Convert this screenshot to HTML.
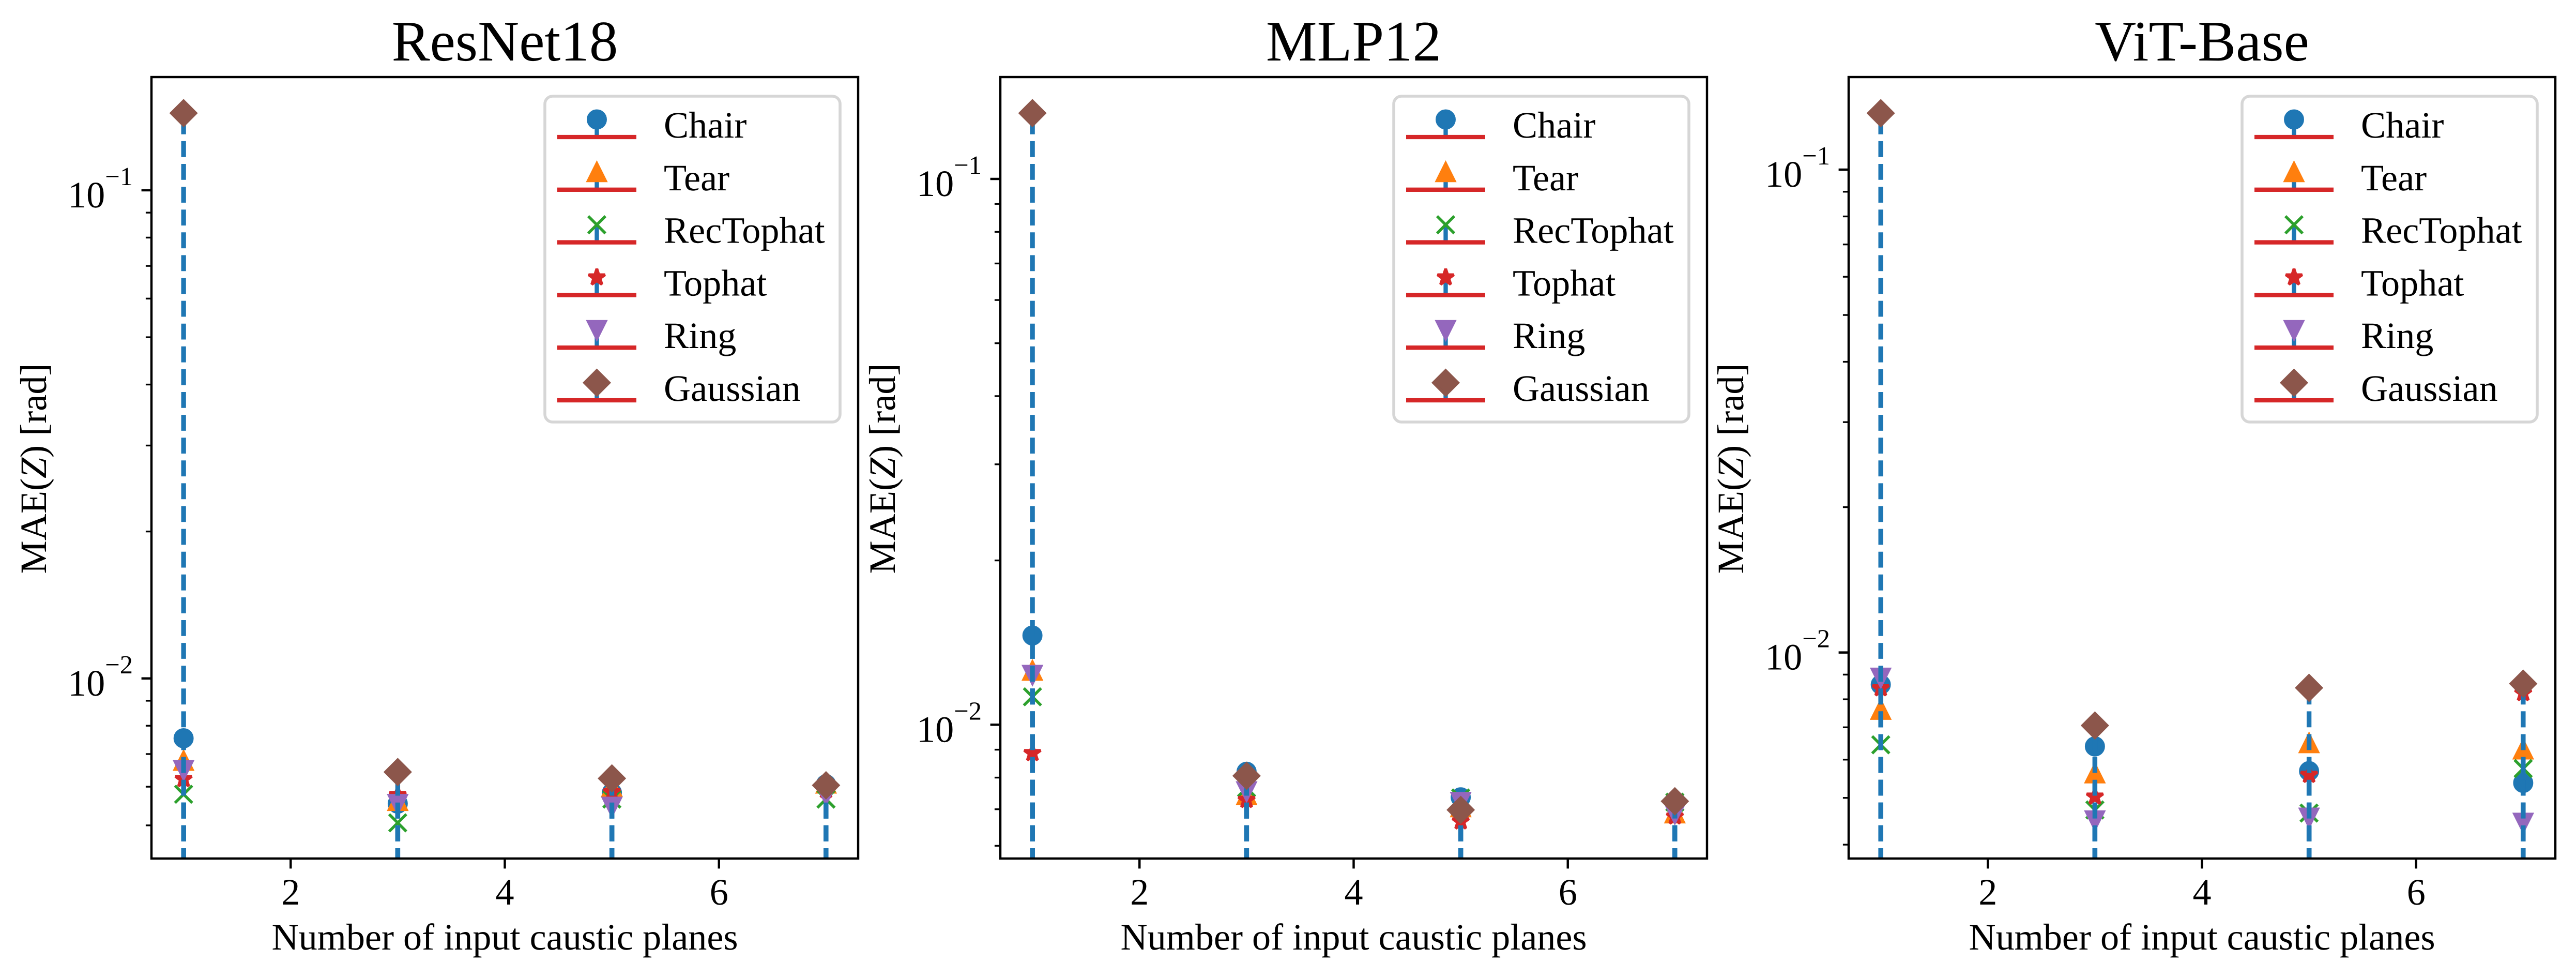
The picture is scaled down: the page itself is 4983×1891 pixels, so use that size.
<!DOCTYPE html>
<html lang="en">
<head>
<meta charset="utf-8">
<title>MAE(Z) vs number of input caustic planes</title>
<style>
html,body{margin:0;padding:0;background:#fff;}
svg{display:block;}
text{font-family:"Liberation Serif","Times New Roman",serif;fill:#000;font-kerning:normal;text-rendering:geometricPrecision;}
.title{font-size:111px;text-anchor:middle;}
.axis-label{font-size:72.2px;text-anchor:middle;}
.legend-label{font-size:72.2px;}
.legend-frame{fill:#fff;fill-opacity:.8;stroke:#d6d6d6;stroke-width:5.56;}
</style>
</head>
<body>
<svg id="figure" xmlns="http://www.w3.org/2000/svg" width="4983" height="1891" viewBox="0 0 4983 1891">
  <rect x="0" y="0" width="4983" height="1891" fill="#fff"/>

  <g>
    <g id="marks-0"></g>
    <g id="axes-0"></g>
    <text class="title" x="976.5" y="117">ResNet18</text>
    <text class="axis-label" x="976.5" y="1836">Number of input caustic planes</text>
    <text class="axis-label" transform="translate(89 906) rotate(-90)">MAE(<tspan font-style="italic">Z</tspan>) [rad]</text>
    <g>
      <rect class="legend-frame" x="1054" y="186" width="571" height="630" rx="15" ry="15"/>
      <g id="legend-0"></g>
      <text class="legend-label" x="1284" y="266">Chair</text>
      <text class="legend-label" x="1284" y="367.8">Tear</text>
      <text class="legend-label" x="1284" y="469.6">RecTophat</text>
      <text class="legend-label" x="1284" y="571.4">Tophat</text>
      <text class="legend-label" x="1284" y="673.2">Ring</text>
      <text class="legend-label" x="1284" y="775">Gaussian</text>
    </g>
  </g>

  <g>
    <g id="marks-1"></g>
    <g id="axes-1"></g>
    <text class="title" x="2618.5" y="117">MLP12</text>
    <text class="axis-label" x="2618.5" y="1836">Number of input caustic planes</text>
    <text class="axis-label" transform="translate(1731 906) rotate(-90)">MAE(<tspan font-style="italic">Z</tspan>) [rad]</text>
    <g>
      <rect class="legend-frame" x="2696" y="186" width="571" height="630" rx="15" ry="15"/>
      <g id="legend-1"></g>
      <text class="legend-label" x="2926" y="266">Chair</text>
      <text class="legend-label" x="2926" y="367.8">Tear</text>
      <text class="legend-label" x="2926" y="469.6">RecTophat</text>
      <text class="legend-label" x="2926" y="571.4">Tophat</text>
      <text class="legend-label" x="2926" y="673.2">Ring</text>
      <text class="legend-label" x="2926" y="775">Gaussian</text>
    </g>
  </g>

  <g>
    <g id="marks-2"></g>
    <g id="axes-2"></g>
    <text class="title" x="4259.5" y="117">ViT-Base</text>
    <text class="axis-label" x="4259.5" y="1836">Number of input caustic planes</text>
    <text class="axis-label" transform="translate(3372 906) rotate(-90)">MAE(<tspan font-style="italic">Z</tspan>) [rad]</text>
    <g>
      <rect class="legend-frame" x="4337" y="186" width="571" height="630" rx="15" ry="15"/>
      <g id="legend-2"></g>
      <text class="legend-label" x="4567" y="266">Chair</text>
      <text class="legend-label" x="4567" y="367.8">Tear</text>
      <text class="legend-label" x="4567" y="469.6">RecTophat</text>
      <text class="legend-label" x="4567" y="571.4">Tophat</text>
      <text class="legend-label" x="4567" y="673.2">Ring</text>
      <text class="legend-label" x="4567" y="775">Gaussian</text>
    </g>
  </g>
</svg>

<script>
// ---- data ----
const inputPlanes = [1, 3, 5, 7];
const xTickValues = [2, 4, 6];
const xLimits = [0.7, 7.3];
const seriesKeys = ['chair', 'tear', 'rectophat', 'tophat', 'ring', 'gaussian'];

const resnet18Chair     = [0.00754, 0.00554, 0.00583, 0.00607];
const resnet18Tear      = [0.00678, 0.00561, 0.00600, 0.00609];
const resnet18RecTophat = [0.00579, 0.00506, 0.00566, 0.00566];
const resnet18Tophat    = [0.00622, 0.00577, 0.00585, 0.00590];
const resnet18Ring      = [0.00649, 0.00553, 0.00546, 0.00578];
const resnet18Gaussian  = [0.1439, 0.00643, 0.00624, 0.00604];
const resnet18YLimits   = [0.004276, 0.1706];
const resnet18YExponents = [-1, -2];

const mlp12Chair     = [0.01457, 0.00820, 0.00736, 0.00718];
const mlp12Tear      = [0.01256, 0.00743, 0.00706, 0.00688];
const mlp12RecTophat = [0.01125, 0.00766, 0.00734, 0.00721];
const mlp12Tophat    = [0.00887, 0.00728, 0.00665, 0.00679];
const mlp12Ring      = [0.01234, 0.00755, 0.00722, 0.00687];
const mlp12Gaussian  = [0.1320, 0.00806, 0.00698, 0.00724];
const mlp12YLimits   = [0.005686, 0.1537];
const mlp12YExponents = [-1, -2];

const vitBaseChair     = [0.00858, 0.00639, 0.00568, 0.00537];
const vitBaseTear      = [0.00761, 0.00562, 0.00649, 0.00630];
const vitBaseRecTophat = [0.00644, 0.00472, 0.00465, 0.00575];
const vitBaseTophat    = [0.00843, 0.00503, 0.00558, 0.00824];
const vitBaseRing      = [0.00887, 0.00449, 0.00455, 0.00444];
const vitBaseGaussian  = [0.1309, 0.00706, 0.00845, 0.00862];
const vitBaseYLimits   = [0.003744, 0.1555];
const vitBaseYExponents = [-1, -2];

// ---- drawing ----
const SVG_NS = 'http://www.w3.org/2000/svg';
const markerStyles = ['circle', 'up', 'x', 'star', 'down', 'diamond'];
const markerColors = ['#1f77b4', '#ff7f0e', '#2ca02c', '#d62728', '#9467bd', '#8c564b'];
const STEM_COLOR = '#1f77b4';
const RED = '#d62728';
const MARKER_R = 16.67;
const EDGE = 5.56;
const frameTop = 149;
const frameBottom = 1660;
const frameLefts = [293, 1935, 3576];
const frameWidth = 1367;
const panelKeys = ['resnet18', 'mlp12', 'vit-base'];

const panelSeries = [
  [resnet18Chair, resnet18Tear, resnet18RecTophat, resnet18Tophat, resnet18Ring, resnet18Gaussian],
  [mlp12Chair, mlp12Tear, mlp12RecTophat, mlp12Tophat, mlp12Ring, mlp12Gaussian],
  [vitBaseChair, vitBaseTear, vitBaseRecTophat, vitBaseTophat, vitBaseRing, vitBaseGaussian]
];
const panelYLimits = [resnet18YLimits, mlp12YLimits, vitBaseYLimits];
const panelYExponents = [resnet18YExponents, mlp12YExponents, vitBaseYExponents];

function make(tag, attrs, parent) {
  const el = document.createElementNS(SVG_NS, tag);
  for (const k in attrs) el.setAttribute(k, attrs[k]);
  parent.appendChild(el);
  return el;
}

function starPoints(cx, cy, r) {
  const pts = [];
  for (let i = 0; i < 10; i++) {
    const rad = i % 2 === 0 ? r : r * 0.381966;
    const ang = -Math.PI / 2 + i * Math.PI / 5;
    pts.push((cx + rad * Math.cos(ang)).toFixed(2) + ',' + (cy + rad * Math.sin(ang)).toFixed(2));
  }
  return pts.join(' ');
}

function drawMarker(kind, color, cx, cy, parent) {
  const r = MARKER_R;
  const common = {fill: color, stroke: color, 'stroke-width': EDGE, 'stroke-linejoin': 'miter', 'stroke-miterlimit': 10};
  if (kind === 'circle') {
    return make('circle', Object.assign({cx: cx, cy: cy, r: r}, common), parent);
  }
  if (kind === 'up') {
    return make('polygon', Object.assign({points: `${cx},${cy - r} ${cx - r},${cy + r} ${cx + r},${cy + r}`}, common), parent);
  }
  if (kind === 'down') {
    return make('polygon', Object.assign({points: `${cx},${cy + r} ${cx - r},${cy - r} ${cx + r},${cy - r}`}, common), parent);
  }
  if (kind === 'diamond') {
    const d = r * Math.SQRT2;
    return make('polygon', Object.assign({points: `${cx},${cy - d} ${cx + d},${cy} ${cx},${cy + d} ${cx - d},${cy}`}, common), parent);
  }
  if (kind === 'star') {
    return make('polygon', Object.assign({points: starPoints(cx, cy, r)}, common, {'stroke-linejoin': 'bevel'}), parent);
  }
  return make('path', {d: `M${cx - r} ${cy - r}L${cx + r} ${cy + r}M${cx - r} ${cy + r}L${cx + r} ${cy - r}`, fill: 'none', stroke: color, 'stroke-width': EDGE}, parent);
}

function drawPanel(p) {
  const L = frameLefts[p];
  const R = L + frameWidth;
  const key = panelKeys[p];
  const lim = panelYLimits[p];
  const xScale = v => L + (v - xLimits[0]) / (xLimits[1] - xLimits[0]) * (R - L);
  const logLo = Math.log10(lim[0]);
  const logHi = Math.log10(lim[1]);
  const yScale = v => frameBottom - (Math.log10(v) - logLo) / (logHi - logLo) * (frameBottom - frameTop);

  const marks = document.getElementById('marks-' + p);
  const axes = document.getElementById('axes-' + p);
  const legend = document.getElementById('legend-' + p);

  const svg = document.getElementById('figure');
  const clip = make('clipPath', {id: 'clip-' + p}, svg);
  make('rect', {x: L, y: frameTop, width: frameWidth, height: frameBottom - frameTop}, clip);

  // stems (dash phase is anchored below the axes, as in the log-clipped original) then markers
  const dashAnchor = 1670.8;
  panelSeries[p].forEach((values, s) => {
    const group = make('g', {}, marks);
    
    
    values.forEach((v, i) => {
      const stem = make('line', {
        x1: xScale(inputPlanes[i]), x2: xScale(inputPlanes[i]),
        y1: dashAnchor, y2: yScale(v),
        stroke: STEM_COLOR, 'stroke-width': 9.3, 'stroke-dasharray': '30.8 13.3',
        'clip-path': `url(#clip-${p})`
      }, group);
      
      
    });
    values.forEach((v, i) => {
      const marker = drawMarker(markerStyles[s], markerColors[s], xScale(inputPlanes[i]), yScale(v), group);
      
      
    });
  });

  // y ticks
  for (let e = Math.floor(logLo); e <= Math.ceil(logHi); e++) {
    for (let m = 2; m <= 9; m++) {
      const v = m * Math.pow(10, e);
      if (v < lim[0] || v > lim[1]) continue;
      const tick = make('line', {x1: L - 11.1, x2: L, y1: yScale(v), y2: yScale(v), stroke: '#000', 'stroke-width': 3.33}, axes);
      
      
    }
  }
  panelYExponents[p].forEach(exp => {
    const y = yScale(Math.pow(10, exp));
    const tick = make('line', {x1: L - 19.4, x2: L, y1: y, y2: y, stroke: '#000', 'stroke-width': 4.44}, axes);
    
    
    const label = make('text', {x: L - 36, y: y + 33, 'text-anchor': 'end', 'font-size': 72.2}, axes);
    
    
    const base = make('tspan', {}, label);
    base.textContent = '10';
    const sup = make('tspan', {dy: -43, 'font-size': 50.5}, label);
    sup.textContent = '\u2212' + Math.abs(exp);
  });

  // x ticks
  xTickValues.forEach(v => {
    const x = xScale(v);
    const tick = make('line', {x1: x, x2: x, y1: frameBottom, y2: frameBottom + 19.4, stroke: '#000', 'stroke-width': 4.44}, axes);
    
    
    const label = make('text', {x: x, y: 1749, 'text-anchor': 'middle', 'font-size': 72.2}, axes);
    
    
    label.textContent = String(v);
  });

  // frame
  const frame = make('rect', {x: L, y: frameTop, width: frameWidth, height: frameBottom - frameTop, fill: 'none', stroke: '#000', 'stroke-width': 4.44}, axes);
  
  

  // legend handles
  const hx = R - 505.5;
  seriesKeys.forEach((name, s) => {
    const baseY = 265 + 101.8 * s;
    const cy = baseY - 34;
    const handle = make('g', {}, legend);
    
    
    make('line', {x1: hx, x2: hx, y1: baseY, y2: cy, stroke: STEM_COLOR, 'stroke-width': 8.33}, handle);
    drawMarker(markerStyles[s], markerColors[s], hx, cy, handle);
    make('line', {x1: hx - 76.5, x2: hx + 76.5, y1: baseY, y2: baseY, stroke: RED, 'stroke-width': 8.33}, handle);
  });
}

[0, 1, 2].forEach(drawPanel);
</script>
</body>
</html>
